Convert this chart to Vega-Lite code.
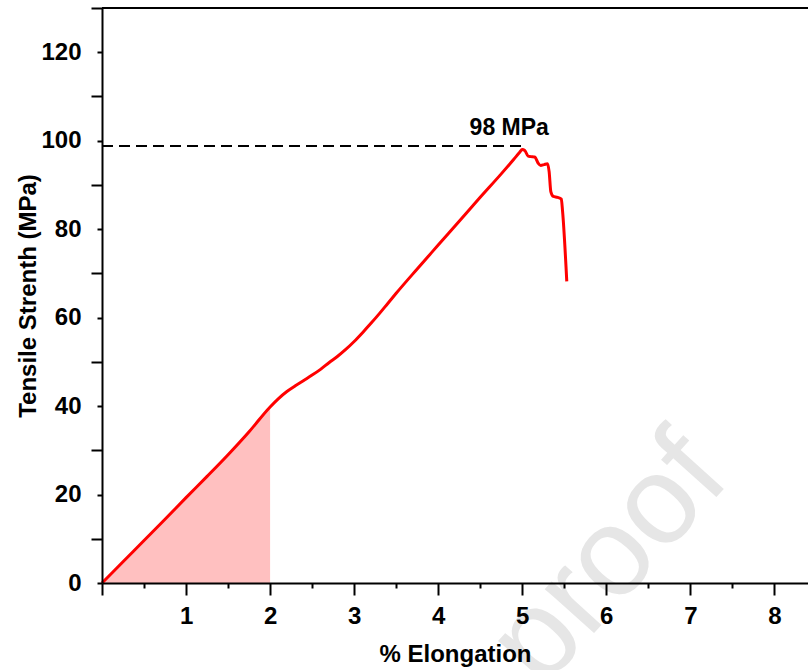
{
  "$schema": "https://vega.github.io/schema/vega-lite/v6.json",
  "width": 706,
  "height": 575,
  "autosize": {"type": "none"},
  "padding": {"left": 102, "top": 8, "right": 0, "bottom": 87},
  "background": "white",
  "config": {"font": "Liberation Sans", "view": {"stroke": null}},
  "datasets": {
    "curve": [
      {"x": 0, "y": 0}, {"x": 0.25, "y": 4.8}, {"x": 0.5, "y": 9.6}, {"x": 0.75, "y": 14.4},
      {"x": 1.0, "y": 19.3}, {"x": 1.25, "y": 24.1}, {"x": 1.5, "y": 29.0}, {"x": 1.75, "y": 34.2},
      {"x": 2.0, "y": 39.8}, {"x": 2.1, "y": 41.7}, {"x": 2.2, "y": 43.3}, {"x": 2.3, "y": 44.6},
      {"x": 2.4, "y": 45.8}, {"x": 2.5, "y": 47.0}, {"x": 2.6, "y": 48.3}, {"x": 2.7, "y": 49.8},
      {"x": 2.8, "y": 51.2}, {"x": 2.9, "y": 52.8}, {"x": 3.0, "y": 54.6}, {"x": 3.1, "y": 56.6},
      {"x": 3.2, "y": 58.7}, {"x": 3.3, "y": 60.9}, {"x": 3.4, "y": 63.2}, {"x": 3.5, "y": 65.5},
      {"x": 3.75, "y": 71.0}, {"x": 4.0, "y": 76.4}, {"x": 4.25, "y": 81.8},
      {"x": 4.5, "y": 87.2}, {"x": 4.75, "y": 92.5}, {"x": 4.9, "y": 95.8}, {"x": 4.97, "y": 97.4},
      {"x": 5.0, "y": 98.0}, {"x": 5.03, "y": 97.8}, {"x": 5.07, "y": 96.5}, {"x": 5.1, "y": 96.4},
      {"x": 5.15, "y": 96.3}, {"x": 5.19, "y": 94.9}, {"x": 5.22, "y": 94.4}, {"x": 5.26, "y": 94.6},
      {"x": 5.3, "y": 94.8}, {"x": 5.32, "y": 93.0}, {"x": 5.34, "y": 88.5}, {"x": 5.37, "y": 87.4},
      {"x": 5.42, "y": 87.2}, {"x": 5.465, "y": 86.8}, {"x": 5.48, "y": 84.0}, {"x": 5.53, "y": 68.2}
    ],
    "ref": [{"x": 0, "x1": 5.0, "y": 98.8}],
    "notes": [{"x": 4.845, "y": 101.4, "label": "98 MPa"}],
    "mark": [{"x": 7.5, "y": 23.4, "label": "Journal Pre-proof"}],
    "frame": [{"x": 0, "x1": 8.4, "y": 130}]
  },
  "encoding": {
    "x": {
      "field": "x", "type": "quantitative",
      "scale": {"domain": [0, 8.4], "nice": false, "zero": false},
      "axis": {
        "title": "% Elongation",
        "zindex": 2,
        "values": [0, 0.5, 1, 1.5, 2, 2.5, 3, 3.5, 4, 4.5, 5, 5.5, 6, 6.5, 7, 7.5, 8],
        "labelExpr": "datum.value % 1 === 0 && datum.value > 0 ? format(datum.value, 'd') : ''",
        "tickSize": {"condition": {"test": "datum.value % 1 !== 0", "value": 5}, "value": 12},
        "grid": false,
        "domainColor": "black", "domainWidth": 2,
        "tickColor": "black", "tickWidth": 2,
        "labelFontSize": 24, "labelFontWeight": "bold", "labelColor": "black",
        "labelPadding": 9, "labelFlush": false, "labelOverlap": false, "labelBound": false,
        "titleFontSize": 24, "titleFontWeight": "bold", "titleColor": "black", "titlePadding": 14
      }
    },
    "y": {
      "field": "y", "type": "quantitative",
      "scale": {"domain": [0, 130], "nice": false, "zero": false},
      "axis": {
        "title": "Tensile Strenth (MPa)",
        "zindex": 2,
        "values": [0, 10, 20, 30, 40, 50, 60, 70, 80, 90, 100, 110, 120, 130],
        "labelExpr": "datum.value % 20 === 0 && datum.value <= 120 ? format(datum.value, 'd') : ''",
        "tickSize": {"condition": {"test": "datum.value % 20 !== 0", "value": 11}, "value": 5},
        "grid": false,
        "domainColor": "black", "domainWidth": 2,
        "tickColor": "black", "tickWidth": 2,
        "labelFontSize": 24, "labelFontWeight": "bold", "labelColor": "black",
        "labelPadding": 16, "labelFlush": false, "labelOverlap": false, "labelBound": false,
        "titleFontSize": 24, "titleFontWeight": "bold", "titleColor": "black", "titlePadding": 0
      }
    }
  },
  "layer": [
    {
      "data": {"name": "mark"},
      "mark": {"type": "text", "fontSize": 125, "color": "#e6e6e6", "angle": 312, "align": "right", "baseline": "alphabetic", "fontWeight": "normal"},
      "encoding": {"text": {"field": "label"}}
    },
    {
      "data": {"name": "curve"},
      "transform": [{"filter": "datum.x <= 2"}],
      "mark": {"type": "area", "color": "#ffc0c0", "opacity": 1, "interpolate": "monotone"},
      "encoding": {}
    },
    {
      "data": {"name": "ref"},
      "mark": {"type": "rule", "color": "black", "strokeWidth": 2, "strokeDash": [11, 6]},
      "encoding": {"x2": {"field": "x1"}}
    },
    {
      "data": {"name": "curve"},
      "mark": {"type": "line", "color": "#ff0000", "strokeWidth": 3, "interpolate": "monotone"},
      "encoding": {}
    },
    {
      "data": {"name": "notes"},
      "mark": {"type": "text", "fontSize": 23, "fontWeight": "bold", "color": "black", "align": "center", "baseline": "alphabetic"},
      "encoding": {"text": {"field": "label"}}
    },
    {
      "data": {"name": "frame"},
      "mark": {"type": "rule", "color": "black", "strokeWidth": 2},
      "encoding": {"x2": {"field": "x1"}}
    }
  ]
}
